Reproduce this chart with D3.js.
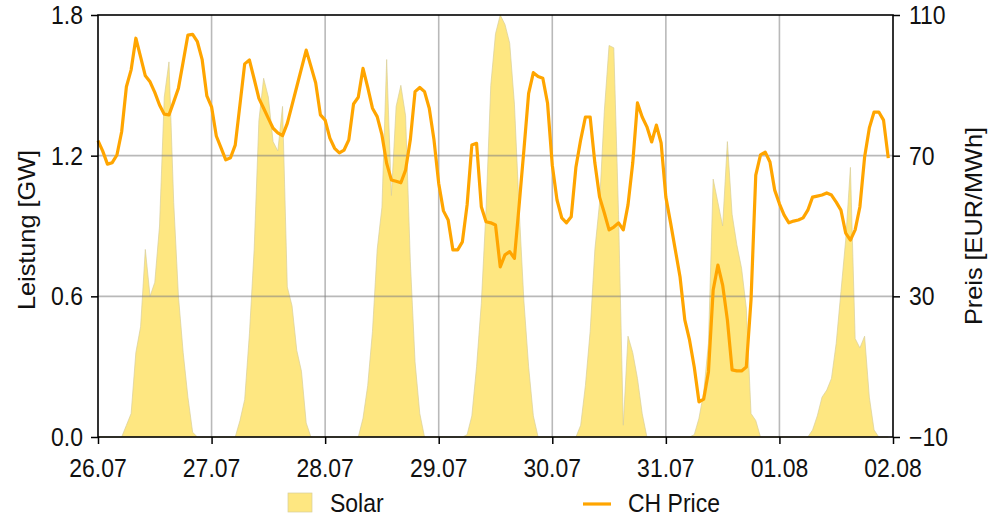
<!DOCTYPE html>
<html>
<head>
<meta charset="utf-8">
<script src="https://cdn.jsdelivr.net/npm/d3@7"></script>
<style>
  html, body { margin: 0; padding: 0; background: #fff; }
  svg { display: block; }
  text { font-family: "Liberation Sans", Arial, Helvetica, sans-serif; fill: #111; }
</style>
</head>
<body>
<svg id="chart" width="995" height="522"></svg>
<script>
// ---------- data ----------
const dayLabels = ["26.07", "27.07", "28.07", "29.07", "30.07", "31.07", "01.08", "02.08"];
const leftTicks = [0.0, 0.6, 1.2, 1.8];
const rightTicks = [-10, 30, 70, 110];
const seriesNames = ["Solar", "CH Price"];

// Solar output [GW], hourly, 26.07 00:00 .. 01.08 23:00
const solar = [
  0,0,0,0,0,0,0.05,0.10,0.36,0.47,0.80,0.60,0.66,0.90,1.45,1.60,1.00,0.60,0.36,0.17,0.02,0,0,0,
  0,0,0,0,0,0,0.07,0.16,0.44,0.80,1.35,1.53,1.45,1.26,1.22,1.41,0.64,0.56,0.37,0.28,0.06,0,0,0,
  0,0,0,0,0,0,0,0,0.08,0.22,0.45,0.80,0.98,1.61,1.03,1.41,1.50,1.37,0.75,0.32,0.10,0,0,0,
  0,0,0,0,0,0,0.01,0.09,0.30,0.57,0.97,1.50,1.72,1.80,1.76,1.68,1.42,0.97,0.58,0.30,0.09,0,0,0,
  0,0,0,0,0,0,0.05,0.22,0.45,0.80,1.00,1.39,1.67,1.66,0.95,0.05,0.43,0.36,0.25,0.10,0,0,0,0,
  0,0,0,0,0,0,0.01,0.08,0.19,0.40,1.10,1.00,0.90,1.26,0.95,0.82,0.72,0.55,0.10,0.07,0,0,0,0,
  0,0,0,0,0,0,0,0.03,0.09,0.17,0.20,0.25,0.40,0.62,0.84,1.15,0.42,0.38,0.43,0.17,0.03,0,0,0
];

// CH day-ahead price [EUR/MWh], hourly
const price = [
  74.3,71.3,67.6,68.0,70.2,76.8,89.6,94.4,103.4,98.1,92.7,91.0,88.0,84.4,81.8,81.6,85.3,89.2,96.7,104.3,104.5,102.4,97.4,87.0,
  83.9,75.6,72.2,68.8,69.4,73.0,84.5,96.1,97.2,91.8,86.3,83.5,80.6,77.8,76.5,75.7,79.2,84.4,89.6,94.8,100.0,95.4,90.7,81.6,
  80.1,75.0,72.1,70.8,71.6,74.5,84.7,86.6,94.8,89.4,83.5,81.1,75.9,67.8,63.1,62.7,62.3,65.9,74.5,88.2,89.4,88.2,83.5,74.5,
  62.1,54.3,51.7,43.2,43.2,45.5,56.0,73.0,73.5,55.5,51.2,50.9,50.3,38.4,41.8,42.7,40.8,56.0,71.6,87.7,93.6,92.5,92.0,84.9,
  67.3,57.4,52.3,50.9,52.6,66.8,74.5,81.0,81.0,67.9,58.2,53.7,48.9,49.7,50.9,48.9,56.0,67.9,85.0,81.0,78.2,73.9,78.7,73.6,
  58.2,50.9,43.2,35.5,23.3,17.6,9.9,0.0,0.8,8.5,31.8,38.9,33.2,23.3,9.1,8.8,8.8,9.9,29.0,64.5,70.2,71.0,68.2,60.2,
  56.3,53.1,50.9,51.4,51.7,52.3,54.5,58.2,58.5,58.8,59.4,58.8,56.8,54.5,48.0,46.0,48.9,55.4,69.6,77.9,82.4,82.4,80.1,69.3
];

// ---------- layout ----------
const L = 98, R = 893, T = 15, B = 437;
const SY = 1.1; // vertical text stretch
const FS = 23;
const svg = d3.select("#chart");

const t0 = Date.UTC(2023, 6, 26);
const times = price.map((_, i) => new Date(t0 + i * 3600000));
const dayDates = dayLabels.map((_, i) => new Date(t0 + i * 86400000));

const x = d3.scaleUtc().domain([dayDates[0], dayDates[dayDates.length - 1]]).range([L, R]);
const yL = d3.scaleLinear().domain([0, 1.8]).range([B, T]);
const yR = d3.scaleLinear().domain([-10, 110]).range([B, T]);

const solarColor = "#fee781";
const priceColor = "#ffa500";

// area
const area = d3.area().x((d, i) => x(times[i])).y0(yL(0)).y1(d => yL(d));
svg.append("path").datum(solar)
  .attr("d", area)
  .attr("fill", solarColor)
  .attr("stroke", "#d8cf9a")
  .attr("stroke-width", 0.7);

// grid
const grid = svg.append("g").attr("stroke", "#808080").attr("stroke-opacity", 0.55).attr("stroke-width", 1.6);
dayDates.slice(1, -1).forEach(d => {
  grid.append("line").attr("x1", x(d)).attr("x2", x(d)).attr("y1", T).attr("y2", B);
});
leftTicks.slice(1, -1).forEach(v => {
  grid.append("line").attr("x1", L).attr("x2", R).attr("y1", yL(v)).attr("y2", yL(v));
});

// price line
const line = d3.line().x((d, i) => x(times[i])).y(d => yR(d)).curve(d3.curveLinear);
svg.append("path").datum(price)
  .attr("d", line)
  .attr("fill", "none")
  .attr("stroke", priceColor)
  .attr("stroke-width", 3.2)
  .attr("stroke-linejoin", "round");

// axes (tick lines only; labels drawn below)
const ax = svg.append("g").attr("class", "axes");
const gB = ax.append("g").attr("transform", `translate(0,${B})`)
  .call(d3.axisBottom(x).tickValues(dayDates).tickSize(7).tickFormat(""));
const gL = ax.append("g").attr("transform", `translate(${L},0)`)
  .call(d3.axisLeft(yL).tickValues(leftTicks).tickSize(7).tickFormat(""));
const gR = ax.append("g").attr("transform", `translate(${R},0)`)
  .call(d3.axisRight(yR).tickValues(rightTicks).tickSize(7).tickFormat(""));
[gB, gL, gR].forEach(g => {
  g.select(".domain").remove();
  g.selectAll(".tick line").attr("stroke", "#000").attr("stroke-width", 1.5);
});
// frame
svg.append("rect").attr("x", L).attr("y", T).attr("width", R - L).attr("height", B - T)
  .attr("fill", "none").attr("stroke", "#000").attr("stroke-width", 1.6);

function txt(str, xp, yp, anchor, rot) {
  return svg.append("text")
    .attr("transform", `translate(${xp},${yp}) scale(1,${SY})` + (rot ? ` rotate(${rot})` : ""))
    .attr("text-anchor", anchor)
    .attr("font-size", FS)
    .text(str);
}

// tick labels
dayDates.forEach((d, i) => txt(dayLabels[i], x(d), 477, "middle"));
const fmtL = d3.format(".1f");
leftTicks.forEach(v => txt(fmtL(v), 83, yL(v) + 9, "end"));
const fmtR = d3.format("d");
rightTicks.forEach(v => txt(fmtR(v), 909, yR(v) + 9, "start"));

// axis titles
txt("Leistung [GW]", 35, (T + B) / 2 + 4, "middle", -90);
txt("Preis [EUR/MWh]", 982, (T + B) / 2, "middle", -90);

// legend
svg.append("rect").attr("x", 288).attr("y", 493).attr("width", 24).attr("height", 19)
  .attr("fill", solarColor).attr("stroke", "#d8cf9a").attr("stroke-width", 0.7);
txt(seriesNames[0], 330, 512, "start");
svg.append("line").attr("x1", 583).attr("x2", 611).attr("y1", 504).attr("y2", 504)
  .attr("stroke", priceColor).attr("stroke-width", 3.2);
txt(seriesNames[1], 628, 512, "start");
</script>
</body>
</html>
